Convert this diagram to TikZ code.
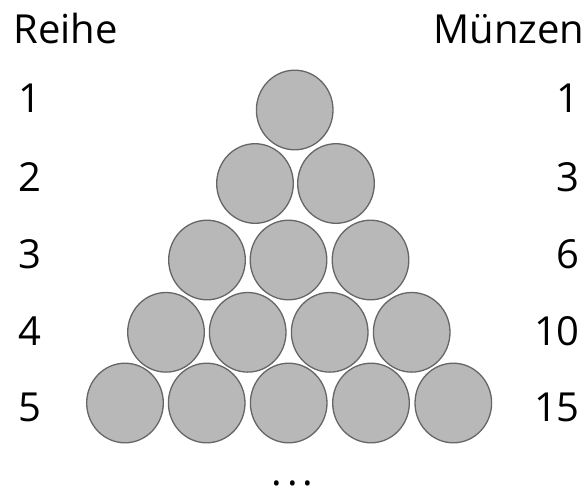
\documentclass[tikz,border=0pt]{standalone}
\usepackage{fontspec}
\setmainfont{Open Sans}
\usetikzlibrary{shapes.geometric}
\definecolor{coinfill}{HTML}{B8B8B8}
\definecolor{coinedge}{HTML}{666666}
\tikzset{
  coin/.style={ellipse, minimum width=76.6pt, minimum height=79.6pt, inner sep=0pt,
               fill=coinfill, draw=coinedge, line width=1.3pt},
  lbl/.style={inner sep=0pt, font=\fontsize{40}{40}\selectfont}
}
\begin{document}
\begin{tikzpicture}[x=1pt,y=-1pt]
  \useasboundingbox (0,0) rectangle (585,488);
  % headings
  \node[lbl, anchor=base west] (reihe) at (13.5,43.3) {Reihe};
  \node[lbl, anchor=base east] (muenzen) at (584.5,43.3) {Münzen};
  % row numbers (left) and running totals (right)
  \foreach \n/\t/\y in {1/1/112, 2/3/191.7, 3/6/268.3, 4/10/345, 5/15/421.7} {
    \node[lbl, anchor=base west] (r\n) at (18,\y) {\n};
    \node[lbl, anchor=base east] (m\n) at (580,\y) {\t};
  }
  % coins
  \node[coin] (c11) at (294.7,110) {};
  \node[coin] (c21) at (255,183.5) {};
  \node[coin] (c22) at (336,183.5) {};
  \node[coin] (c31) at (207,260) {};
  \node[coin] (c32) at (288.5,260) {};
  \node[coin] (c33) at (370.5,260) {};
  \node[coin] (c41) at (166,332.3) {};
  \node[coin] (c42) at (247.7,332.3) {};
  \node[coin] (c43) at (329.7,332.3) {};
  \node[coin] (c44) at (411.7,332.3) {};
  \node[coin] (c51) at (125,403) {};
  \node[coin] (c52) at (206.7,403) {};
  \node[coin] (c53) at (288.7,403) {};
  \node[coin] (c54) at (371,403) {};
  \node[coin] (c55) at (453.3,403) {};
  % continuation
  \node[lbl, anchor=base] (dots) at (292.5,485) {.\hspace{5pt}.\hspace{5pt}.};
\end{tikzpicture}
\end{document}
